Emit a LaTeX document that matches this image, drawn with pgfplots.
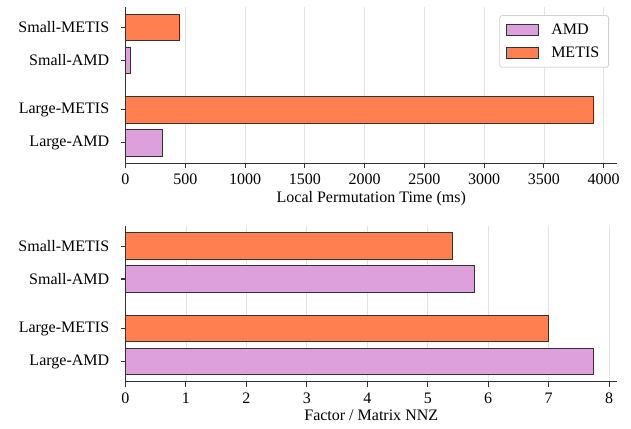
\documentclass[border=0pt]{standalone}
\usepackage{fontspec}
\setmainfont{Liberation Serif}
\usepackage{pgfplots}
\pgfplotsset{compat=1.18}

\definecolor{amdcol}{HTML}{DDA0DD}
\definecolor{metiscol}{HTML}{FF7F50}
\definecolor{spine}{HTML}{333333}
\definecolor{gridcol}{HTML}{E3E3E3}

\newcommand{\chartfont}{\fontsize{12}{14}\selectfont}

\pgfplotsset{
  bars/.style={
    scale only axis,
    width=368.6pt, height=117pt,
    xbar, bar width=0.8, bar shift=0pt,
    xmin=0,
    ymin=-0.615, ymax=4.115,
    ytick={0,1,2.5,3.5},
    yticklabels={Large-AMD,Large-METIS,Small-AMD,Small-METIS},
    axis x line*=bottom, axis y line*=left,
    axis line style={spine, line width=0.8pt, -},
    tick style={spine, line width=0.8pt},
    major tick length=3.7pt,
    tick align=outside,
    xmajorgrids, ymajorgrids=false,
    major grid style={gridcol, line width=0.6pt},
    every tick label/.append style={font=\chartfont},
    label style={font=\chartfont},
    /pgf/number format/assume math mode=true,
    /pgf/number format/1000 sep={},
    yticklabel style={xshift=-5pt},
    xticklabel style={yshift=-1pt},
    xlabel style={yshift=2pt},
    clip=false,
  },
  amd/.style={fill=amdcol, draw=spine, line width=0.7pt},
  metis/.style={fill=metiscol, draw=spine, line width=0.7pt},
}

\begin{document}
\begin{tikzpicture}
\useasboundingbox (-94.1pt,-34.7pt) rectangle (379.1pt,286.3pt);

% permutation time
\begin{axis}[bars,
  at={(0,164pt)},
  xmax=4111,
  xtick={0,500,1000,1500,2000,2500,3000,3500,4000},
  xlabel={Local Permutation Time (ms)},
  legend cell align=left,
  legend style={at={(1,1)}, anchor=north east, xshift=-6pt, yshift=-6pt,
    draw=black!18, rounded corners=2pt, line width=0.6pt,
    font=\chartfont,
    inner xsep=5pt, inner ysep=4pt, row sep=4pt,
    /tikz/every odd column/.append style={column sep=7pt}},
  legend image code/.code={\draw[#1, sharp corners] (0pt,-4.1pt) rectangle (24pt,4.1pt);},
]
\addplot[amd] coordinates {(311,0) (38,2.5)};
\addplot[metis] coordinates {(3915,1) (453,3.5)};
\legend{AMD,METIS}
\end{axis}

% fill ratio
\begin{axis}[bars,
  at={(0,0)},
  xmax=8.13,
  xtick={0,1,2,3,4,5,6,7,8},
  xlabel={Factor / Matrix NNZ},
]
\addplot[amd] coordinates {(7.74,0) (5.77,2.5)};
\addplot[metis] coordinates {(6.99,1) (5.41,3.5)};
\end{axis}
\end{tikzpicture}
\end{document}
